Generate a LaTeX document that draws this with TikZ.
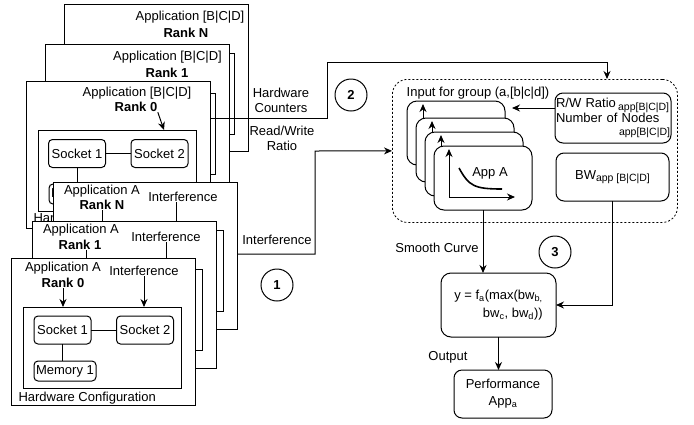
\documentclass[tikz,border=0pt]{standalone}
\usepackage{fontspec}
\setmainfont{Liberation Sans}
\usetikzlibrary{arrows.meta,positioning}
\newcommand{\subtxt}[1]{\raisebox{-2.5pt}{\fontsize{10.5}{12}\selectfont #1}}

\begin{document}
\begin{tikzpicture}[x=1pt, y=-1pt, line width=1pt,
    font=\fontsize{13}{15}\selectfont,
    rankbox/.style={draw, fill=white, minimum width=184pt, minimum height=147pt, anchor=north west, inner sep=0pt, outer sep=0pt},
    hw/.style={draw, fill=white, minimum width=158pt, minimum height=81pt, anchor=north west, inner sep=0pt, outer sep=0pt},
    sock/.style={draw, fill=white, rounded corners=4pt, minimum width=57pt, minimum height=28pt, inner sep=0pt, outer sep=0pt},
    mem/.style={sock, minimum width=62pt, minimum height=20pt},
    plotbox/.style={draw, fill=white, rounded corners=10pt, minimum width=98pt, minimum height=64pt, anchor=north west, outer sep=0pt},
    box/.style={draw, fill=white, rounded corners=8pt, align=center, inner sep=1pt, outer sep=0pt},
    txt/.style={inner sep=0pt, align=center},
    rk/.style={txt, font=\fontsize{13}{15}\selectfont\bfseries},
    num/.style={draw, circle, minimum size=32pt, inner sep=0pt, font=\fontsize{13}{15}\selectfont\bfseries},
    arr/.style={-{Stealth[length=8pt,width=7pt]}}]
  \useasboundingbox (0,0) rectangle (694,424);

  % group of model inputs
  \node[draw, line width=0.8pt, dash pattern=on 2pt off 2pt, rounded corners=15pt, minimum width=285pt, minimum height=143pt, anchor=north west] (grp) at (392,79) {};
  \node[txt] (grptitle) at (478,93) {Input for group (a,[b|c|d])};

  % applications B|C|D
  \node[rankbox] (bN) at (64,4) {};
  \node[hw] (bNhw) at (76,53) {};
  \node[txt] (bNapp) at (190,17) {Application [B|C|D]};
  \node[rk] (bNrank) at (186,33) {Rank N};

  \node[rankbox] (b1) at (45,44) {};
  \node[hw] (b1hw) at (57,93) {};
  \node[txt] (b1app) at (167.5,57) {Application [B|C|D]};
  \node[rk] (b1rank) at (167,73) {Rank 1};

  \node[rankbox] (b0) at (26,81) {};
  \node[hw] (b0hw) at (38,130) {};
  \node[txt] (b0app) at (137,93) {Application [B|C|D]};
  \node[rk] (b0rank) at (136,107) {Rank 0};
  \node[sock] (b0s1) at (77,153.5) {Socket 1};
  \node[sock] (b0s2) at (159.5,153.5) {Socket 2};
  \node[mem] (b0mem) at (80,194) {Memory 1};
  \node[txt, anchor=west] (b0cfg) at (33,219) {Hardware Configuration};
  \draw[arr] (b0rank.south east) -- ([xshift=-32pt]b0hw.north east);
  \draw (b0s1) -- (b0s2);
  \draw (b0s1.south) -- (b0s1.south |- b0mem.north);

  \draw[arr] ([yshift=-37pt]b0.north east) -| ++(117,-56) -| ([xshift=215pt]grp.north west);
  \node[txt] (cntlbl) at (281,100) {Hardware\\Counters};
  \node[txt] (rwlbl) at (282,138) {Read/Write\\Ratio};

  % applications A
  \node[rankbox] (aN) at (53,182) {};
  \node[hw] (aNhw) at (65,230) {};
  \node[txt] (aNapp) at (102,191) {Application A};
  \node[rk] (aNrank) at (102,205) {Rank N};
  \node[txt] (aNint) at (183,197) {Interference};
  \draw[arr] (aNrank.south) -- (aNrank.south |- aNhw.north);
  \draw[arr] ([xshift=-7pt]aNint.south) -- ([xshift=-7pt]aNint.south |- aNhw.north);

  \node[rankbox] (a1) at (32,221) {};
  \node[hw] (a1hw) at (44,269) {};
  \node[txt] (a1app) at (81,230) {Application A};
  \node[rk] (a1rank) at (80,245) {Rank 1};
  \node[txt] (a1int) at (166,237) {Interference};
  \draw[arr] ([xshift=6pt]a1rank.south) -- ([xshift=6pt]a1rank.south |- a1hw.north);
  \draw[arr] (a1int.south) -- (a1int.south |- a1hw.north);

  \node[rankbox] (a0) at (11,258) {};
  \node[hw] (a0hw) at (23,307) {};
  \node[txt] (a0app) at (63,268) {Application A};
  \node[rk] (a0rank) at (63,283) {Rank 0};
  \node[txt] (a0int) at (144,271) {Interference};
  \node[sock] (a0s1) at (62.5,330) {Socket 1};
  \node[sock] (a0s2) at (145,330) {Socket 2};
  \node[mem] (a0mem) at (65,371) {Memory 1};
  \node[txt, anchor=west] (a0cfg) at (18,398) {Hardware Configuration};
  \draw[arr] (a0rank.south) -- (a0rank.south |- a0hw.north);
  \draw[arr] (a0int.south) -- (a0int.south |- a0hw.north);
  \draw (a0s1) -- (a0s2);
  \draw (a0s1.south) -- (a0s1.south |- a0mem.north);

  \draw[arr] ([yshift=-72pt]aN.north east) -| ++(78,-103) -- (grp.west);
  \node[txt] (intlbl) at (277,240) {Interference};

  % curves per group
  \node[plotbox] (p1) at (407,101) {};
  \draw[arr] ([shift={(16,51)}]p1.north west) -- ([shift={(16,3)}]p1.north west);
  \node[plotbox] (p2) at (416,118) {};
  \draw[arr] ([shift={(16,51)}]p2.north west) -- ([shift={(16,3)}]p2.north west);
  \node[plotbox] (p3) at (425,132) {};
  \draw[arr] ([shift={(16,51)}]p3.north west) -- ([shift={(16,3)}]p3.north west);
  \node[plotbox] (p4) at (434,146) {};
  \draw[arr] ([shift={(15,51)}]p4.north west) -- ([shift={(15,3)}]p4.north west);
  \draw[arr] ([shift={(15,51)}]p4.north west) -- ([shift={(81,51)}]p4.north west);
  \draw[line width=1.6pt] (459,168) .. controls (469,186) and (474,189) .. (502,189);
  \node[txt] (appa) at (490,173) {App A};

  \node[box, text width=114pt, align=left, minimum height=50pt, anchor=north west] (rw) at (555,93)
    {\mbox{R/W Ratio\,\subtxt{app[B|C|D]}}\\Number of Nodes\\[-2pt]\hspace*{\fill}{\fontsize{10.5}{12}\selectfont app[B|C|D]}};
  \node[box, minimum width=113pt, minimum height=48pt, anchor=north west] (bw) at (556,153) {BW\subtxt{app [B|C|D]}};
  \draw[arr, shorten >=7pt] ([yshift=10pt]rw.west) -- ([yshift=10pt]rw.west -| p1.east);

  % model
  \node[box, rounded corners=10pt, minimum width=115pt, minimum height=64pt, align=right, anchor=north west] (fx) at (441,273)
    {y = f\textsubscript{a}(max(bw\textsubscript{b,}\\[3pt]bw\textsubscript{c}, bw\textsubscript{d}))};
  \node[box, minimum width=98pt, minimum height=48pt, anchor=north west] (perf) at (454,370) {Performance\\[2pt]App\textsubscript{a}};
  \draw[arr] (p4.south) -- (p4.south |- fx.north);
  \draw[arr] (bw.south) |- (fx.east);
  \draw[arr] (fx.south) -- (fx.south |- perf.north);
  \node[txt] (smooth) at (437,248) {Smooth Curve};
  \node[txt] (outlbl) at (448,357) {Output};

  \node[num] (one) at (277,285) {1};
  \node[num] (two) at (351,95) {2};
  \node[num] (three) at (555,252) {3};
\end{tikzpicture}
\end{document}
